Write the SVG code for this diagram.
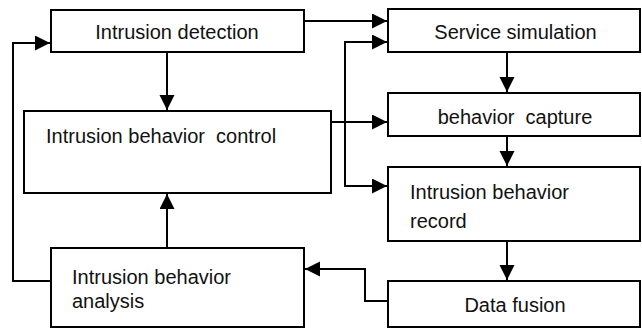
<svg xmlns="http://www.w3.org/2000/svg" width="642" height="329" viewBox="0 0 642 329">
<style>
.box{fill:#fff;stroke:#000;stroke-width:2}
.lbl{font-family:"Liberation Sans",Arial,sans-serif;font-size:20px;fill:#111;white-space:pre}
.c{text-anchor:middle}
.con{fill:none;stroke:#000;stroke-width:2}
</style>
<defs>
<marker id="ah" markerUnits="userSpaceOnUse" markerWidth="16" markerHeight="16" refX="15" refY="7.5" orient="auto">
<path d="M0,0 L15,7.5 L0,15 z" fill="#000"/>
</marker>
</defs>
<rect width="642" height="329" fill="#fff"/>
<g id="connectors">
<path class="con" d="M304,21 H387" marker-end="url(#ah)"/>
<path class="con" d="M167,52 V110" marker-end="url(#ah)"/>
<path class="con" d="M331,122 H387" marker-end="url(#ah)"/>
<path class="con" d="M345,122 V42 H387" marker-end="url(#ah)"/>
<path class="con" d="M345,122 V186 H387" marker-end="url(#ah)"/>
<path class="con" d="M507,52 V92" marker-end="url(#ah)"/>
<path class="con" d="M507,136 V166" marker-end="url(#ah)"/>
<path class="con" d="M507,241 V280" marker-end="url(#ah)"/>
<path class="con" d="M388,301 H365 V269 H305" marker-end="url(#ah)"/>
<path class="con" d="M167,248 V194" marker-end="url(#ah)"/>
<path class="con" d="M51,281 H13 V43 H50" marker-end="url(#ah)"/>
</g>
<g id="intrusion-detection">
<rect class="box" x="51" y="10" width="253" height="42"/>
<text class="lbl c" x="177" y="39">Intrusion detection</text>
</g>
<g id="service-simulation">
<rect class="box" x="388" y="9" width="252" height="43"/>
<text class="lbl c" x="515.5" y="39">Service simulation</text>
</g>
<g id="intrusion-behavior-control">
<rect class="box" x="24" y="111" width="307" height="82"/>
<text class="lbl" x="46" y="143" xml:space="preserve">Intrusion behavior  control</text>
</g>
<g id="behavior-capture">
<rect class="box" x="388" y="93" width="252" height="43"/>
<text class="lbl c" x="515" y="124" xml:space="preserve">behavior  capture</text>
</g>
<g id="intrusion-behavior-record">
<rect class="box" x="388" y="167" width="252" height="74"/>
<text class="lbl" x="410" y="199">Intrusion behavior</text>
<text class="lbl" x="410" y="228">record</text>
</g>
<g id="intrusion-behavior-analysis">
<rect class="box" x="51" y="248" width="253" height="79"/>
<text class="lbl" x="72" y="284">Intrusion behavior</text>
<text class="lbl" x="72" y="308">analysis</text>
</g>
<g id="data-fusion">
<rect class="box" x="388" y="281" width="252" height="46"/>
<text class="lbl c" x="515" y="312">Data fusion</text>
</g>
</svg>
